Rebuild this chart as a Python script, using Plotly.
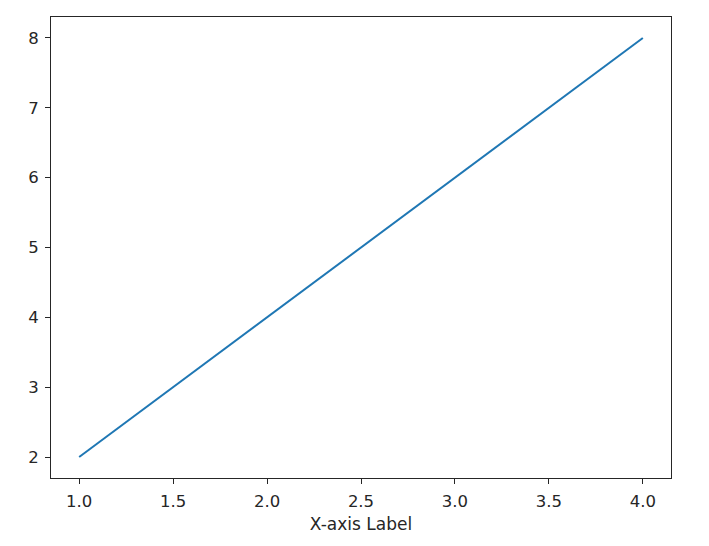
import plotly.graph_objects as go

x_values = [1, 2, 3, 4]
y_values = [2, 4, 6, 8]
x_ticks = [1.0, 1.5, 2.0, 2.5, 3.0, 3.5, 4.0]
x_tick_labels = ["1.0", "1.5", "2.0", "2.5", "3.0", "3.5", "4.0"]
y_ticks = [2, 3, 4, 5, 6, 7, 8]

fig = go.Figure()
fig.add_trace(go.Scatter(x=x_values, y=y_values, mode="lines",
                         line=dict(color="#1f77b4", width=2), showlegend=False))

font = dict(family="DejaVu Sans", size=16.5, color="#262626")
axis_common = dict(showline=True, linecolor="#262626", linewidth=1, mirror=True,
                   ticks="outside", ticklen=5, tickwidth=1, tickcolor="#262626",
                   showgrid=False, zeroline=False, tickfont=font,
                   ticklabelstandoff=3)

fig.update_layout(
    width=709, height=546,
    margin=dict(l=43, r=46, t=9, b=76),
    paper_bgcolor="white", plot_bgcolor="white",
    xaxis=dict(range=[0.85, 4.15], tickvals=x_ticks, ticktext=x_tick_labels,
               title=dict(text="X-axis Label", standoff=8,
                          font=dict(family="DejaVu Sans", size=17, color="#262626")),
               **axis_common),
    yaxis=dict(range=[1.7, 8.3], tickvals=y_ticks, **axis_common),
)

fig.write_html("out.html")
